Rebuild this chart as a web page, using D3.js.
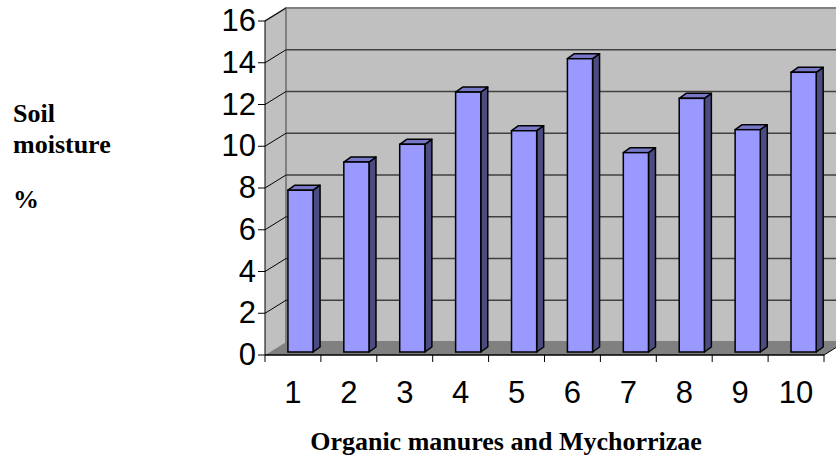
<!DOCTYPE html>
<html><head><meta charset="utf-8">
<script src="https://cdn.jsdelivr.net/npm/d3@7"></script>
<style>body{margin:0;background:#fff}</style>
</head><body>
<svg id="c" width="836" height="463"></svg>
<script>
const categories = ["1","2","3","4","5","6","7","8","9","10"];
const values = [7.75, 9.1, 9.95, 12.45, 10.6, 14.05, 9.55, 12.15, 10.65, 13.4];
const yTicks = [0,2,4,6,8,10,12,14,16];
const yTitle = ["Soil","moisture","","%"];
const xTitle = "Organic manures and Mychorrizae";

const svg = d3.select("#c");
const x0 = 265, x1 = 824, yBot = 355, yTop = 21;
const DX = 21, DY = 13; // wall depth
const x = d3.scaleBand().domain(categories).range([x0, x1]);
const y = d3.scaleLinear().domain([0,16]).range([yBot, yTop]);

// side wall
svg.append("polygon")
  .attr("points", [[x0,yBot],[x0,yTop],[x0+DX,yTop-DY],[x0+DX,yBot-DY]].join(" "))
  .attr("fill","#C0C0C0");
// back wall
svg.append("polygon")
  .attr("points", [[x0+DX,yTop-DY],[x1+DX,yTop-DY],[x1+DX,yBot-DY],[x0+DX,yBot-DY]].join(" "))
  .attr("fill","#C0C0C0").attr("stroke","#808080").attr("stroke-width",2);
// floor
svg.append("polygon")
  .attr("points", [[x0,yBot],[x1,yBot],[x1+DX,yBot-DY],[x0+DX,yBot-DY]].join(" "))
  .attr("fill","#808080");
// side wall top edge
svg.append("line").attr("x1",x0).attr("y1",yTop).attr("x2",x0+DX).attr("y2",yTop-DY)
  .attr("stroke","#808080").attr("stroke-width",2);

// gridlines
const g = svg.append("g");
yTicks.filter(t => t>0 && t<16).forEach(t => {
  g.append("line").attr("x1",x0+DX).attr("x2",x1+DX)
    .attr("y1",y(t)-DY).attr("y2",y(t)-DY).attr("stroke","#404040").attr("stroke-width",1.5);
});
yTicks.filter(t => t>0).forEach(t => {
  g.append("line").attr("x1",x0).attr("x2",x0+DX)
    .attr("y1",y(t)).attr("y2",y(t)-DY).attr("stroke","#000").attr("stroke-width",1);
});

// bars
const bw = x.bandwidth()*0.45, boff = x.bandwidth()*0.41, lift = 3, bdx = 7, bdy = 5;
const bars = svg.append("g").selectAll("g").data(categories).join("g");
bars.each(function(c,i){
  const gx = d3.select(this);
  const L = x(c)+boff, R = L+bw, B = yBot-lift, T = y(values[i])-lift;
  gx.append("polygon").attr("points",[[R,B],[R+bdx,B-bdy],[R+bdx,T-bdy],[R,T]].join(" "))
    .attr("fill","#4C4C80").attr("stroke","#000").attr("stroke-width",1.5).attr("stroke-linejoin","round");
  gx.append("polygon").attr("points",[[L,T],[R,T],[R+bdx,T-bdy],[L+bdx,T-bdy]].join(" "))
    .attr("fill","#7878C8").attr("stroke","#000").attr("stroke-width",1.5).attr("stroke-linejoin","round");
  gx.append("rect").attr("x",L).attr("y",T).attr("width",bw).attr("height",B-T)
    .attr("fill","#9999FF").attr("stroke","#000").attr("stroke-width",1.5);
});

// y axis
svg.append("line").attr("x1",x0).attr("x2",x0).attr("y1",yTop).attr("y2",yBot).attr("stroke","#000");
yTicks.forEach(t => {
  svg.append("line").attr("x1",x0-7).attr("x2",x0).attr("y1",y(t)).attr("y2",y(t)).attr("stroke","#000");
  svg.append("text").attr("x",256).attr("y",y(t)).attr("dy","0.33em").attr("text-anchor","end")
    .attr("font-family","Liberation Sans, Arial, sans-serif").attr("font-size",31).text(t);
});
// x axis
svg.append("line").attr("x1",x0).attr("x2",x1).attr("y1",yBot).attr("y2",yBot).attr("stroke","#000").attr("stroke-width",1.5);
svg.append("line").attr("x1",x1).attr("x2",x1+DX).attr("y1",yBot).attr("y2",yBot-DY).attr("stroke","#000");
categories.concat(["end"]).forEach((c,i) => {
  const xx = c==="end" ? x1 : x(c);
  svg.append("line").attr("x1",xx).attr("x2",xx).attr("y1",yBot).attr("y2",yBot+7).attr("stroke","#000");
});
categories.forEach(c => {
  svg.append("text").attr("x",x(c)+x.bandwidth()/2).attr("y",403).attr("text-anchor","middle")
    .attr("font-family","Liberation Sans, Arial, sans-serif").attr("font-size",31).text(c);
});
// titles
svg.append("text").attr("x",506).attr("y",450).attr("text-anchor","middle")
  .attr("font-family","Liberation Serif, Times New Roman, serif").attr("font-weight","bold").attr("font-size",26).text(xTitle);
const yb = [122,153,180,208];
yTitle.forEach((s,i) => {
  if (!s) return;
  svg.append("text").attr("x",13).attr("y",yb[i])
    .attr("font-family","Liberation Serif, Times New Roman, serif").attr("font-weight","bold").attr("font-size",26).text(s);
});
</script>
</body></html>
